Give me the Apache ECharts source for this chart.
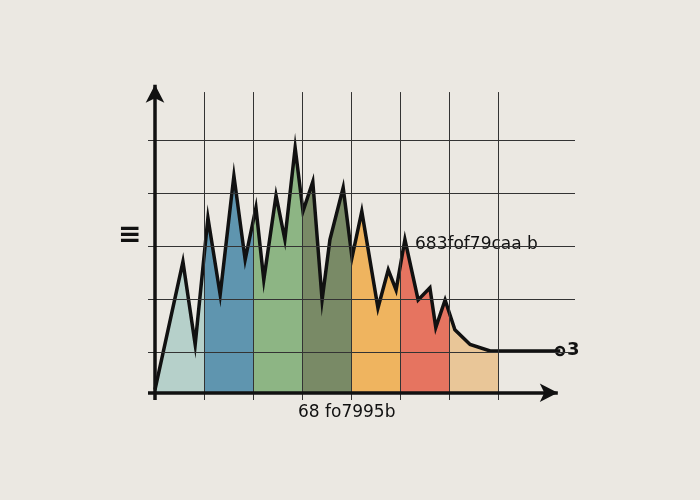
<!DOCTYPE html>
<html><head><meta charset="utf-8">
<script src="https://cdn.jsdelivr.net/npm/echarts@6/dist/echarts.min.js"></script>
<style>html,body{margin:0;background:#ebe8e2}#c{width:700px;height:500px}</style>
</head><body><div id="c"></div>
<script>
const xs=[0,0.57,0.82,1.08,1.33,1.61,1.84,2.06,2.22,2.47,2.65,2.86,3.02,3.22,3.41,3.57,3.84,4.02,4.22,4.55,4.76,4.92,5.10,5.37,5.61,5.73,5.92,6.12,6.43,6.84,8.27];
const ys=[0.29,2.70,1.14,3.53,2.08,4.32,2.74,3.72,2.36,3.95,3.12,4.85,3.65,4.21,1.98,3.12,4.10,2.78,3.65,1.83,2.55,2.17,3.12,1.98,2.21,1.46,1.98,1.42,1.14,1.02,1.02];
const bandColors=['#b6d0ca','#5f95af','#8db584','#798a66','#efb45f','#e67460','#e9c698'];
const gridX=[1,2,3,4,5,6,7];
const gridY=[1,2,3,4,5];
const axisY=0.23;
const topLabel='683fof79caa b', bottomLabel='68 fo7995b', endLabel='3', leftLabel='≡';
const data=xs.map((x,i)=>[x,ys[i]]);
const pieces=bandColors.map((c,i)=>({gte:i,lt:i+1,color:c}));
pieces.push({gte:7,color:'rgba(0,0,0,0)'});pieces.push({lt:0,color:'rgba(0,0,0,0)'});
const ch=echarts.init(document.getElementById('c'));
const XMIN=-0.143,XMAX=8.571,YMIN=0.094,YMAX=6.09;
ch.setOption({
 backgroundColor:'#ebe8e2',animation:false,
 grid:{left:148,right:125,top:82,bottom:100},
 xAxis:{type:'value',min:XMIN,max:XMAX,show:false},
 yAxis:{type:'value',min:YMIN,max:YMAX,show:false},
 visualMap:{show:false,type:'piecewise',dimension:0,seriesIndex:0,pieces:pieces},
 series:[
  {type:'line',data:data,symbol:'none',lineStyle:{width:0},areaStyle:{opacity:1,origin:axisY},z:1},
  {type:'line',data:data,symbol:'none',lineStyle:{color:'#111',width:3.5,join:'miter'},z:3,
   markLine:{silent:true,symbol:'none',label:{show:false},lineStyle:{color:'#333',width:1,type:'solid'},
    data:[[{coord:[1,0.094]},{coord:[1,5.9]}],[{coord:[2,0.094]},{coord:[2,5.9]}],[{coord:[3,0.094]},{coord:[3,5.9]}],[{coord:[4,0.094]},{coord:[4,5.9]}],[{coord:[5,0.094]},{coord:[5,5.9]}],[{coord:[6,0.094]},{coord:[6,5.9]}],[{coord:[7,0.094]},{coord:[7,5.9]}]].slice(0,gridX.length).concat(gridY.map(v=>({yAxis:v})))}},
  {type:'line',data:[[0,axisY]],symbol:'none',lineStyle:{width:0},z:4,markLine:{silent:true,symbol:['none','arrow'],symbolSize:[14,18],label:{show:false},
    lineStyle:{color:'#111',width:3.5,type:'solid'},
    data:[[{coord:[0,YMIN]},{coord:[0,6.04]}],[{coord:[XMIN,axisY]},{coord:[8.22,axisY]}]]}}
 ],
 graphic:[
  {type:'text',left:415,top:236,style:{text:topLabel,font:'17px "DejaVu Sans"',fill:'#111'}},
  {type:'text',left:298,top:404,style:{text:bottomLabel,font:'17px "DejaVu Sans"',fill:'#111'}},
  {type:'text',left:567,top:341,style:{text:endLabel,font:'bold 18px "DejaVu Sans"',fill:'#111'}},
  {type:'text',left:118,top:222,style:{text:leftLabel,font:'bold 28px "DejaVu Sans"',fill:'#111'}},
  {type:'circle',shape:{cx:560,cy:351,r:4},style:{fill:'#ebe8e2',stroke:'#111',lineWidth:2.5}}
 ]
});
</script></body></html>
